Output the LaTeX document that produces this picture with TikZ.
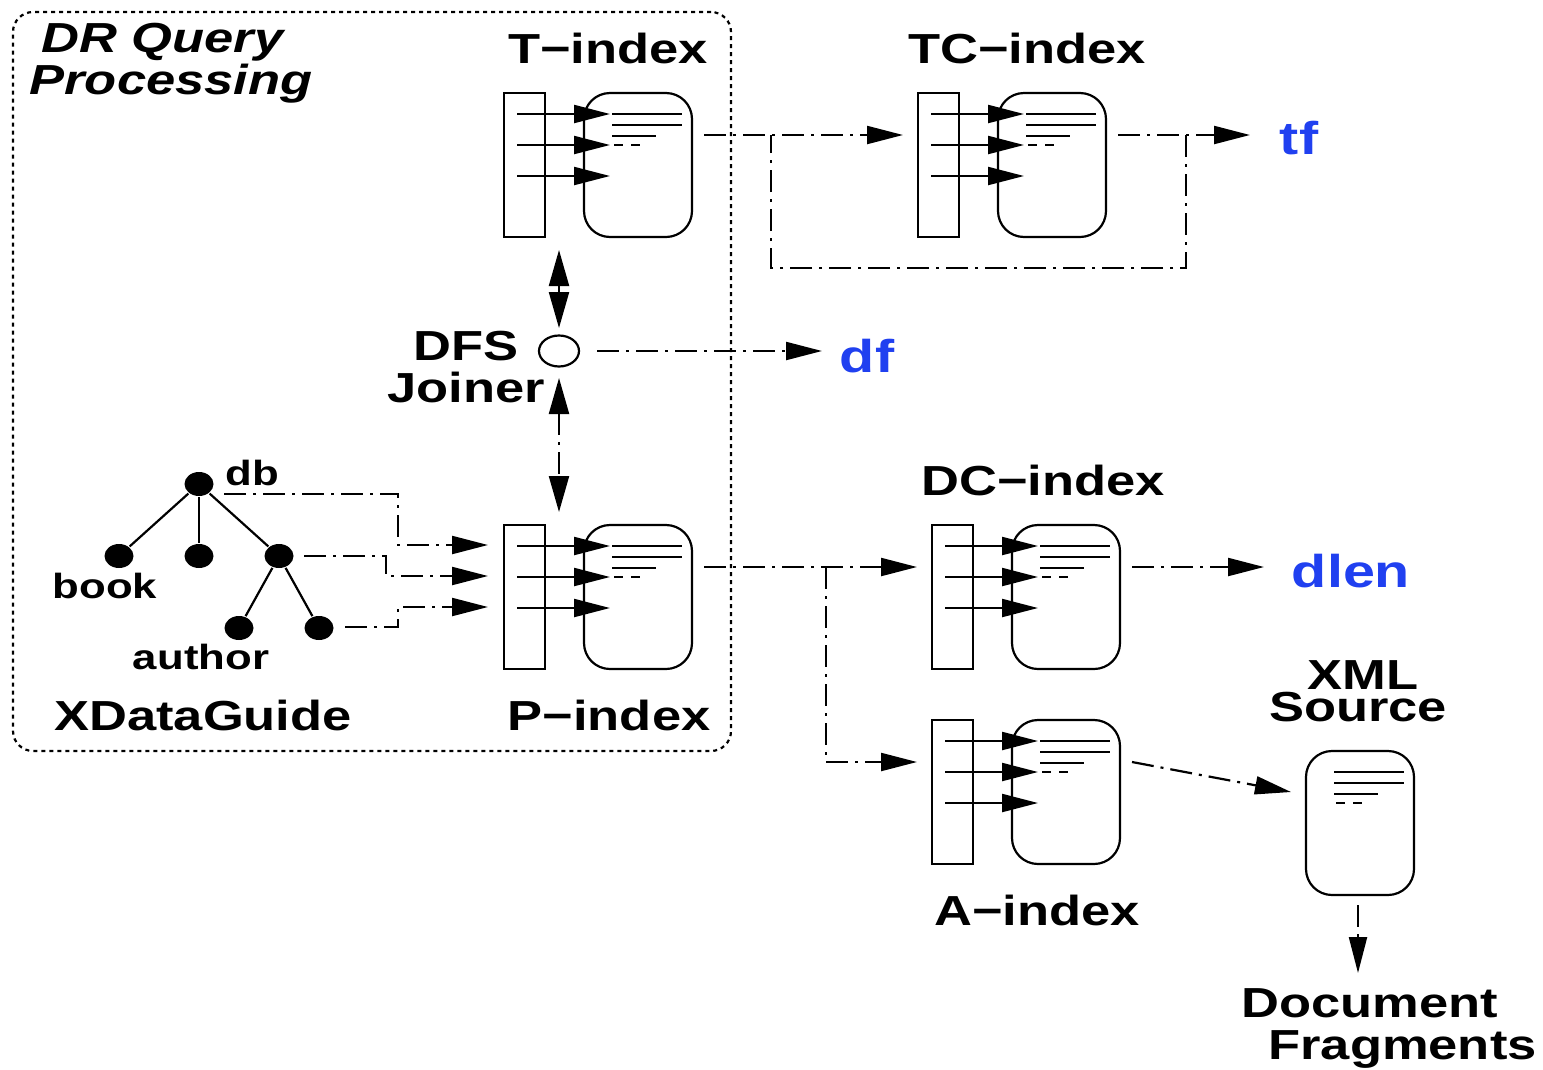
\documentclass[tikz,border=0pt]{standalone}
\usepackage{fontspec}
\setmainfont[FakeStretch=1.25]{Liberation Sans}
\usetikzlibrary{arrows.meta, shapes.geometric}

\definecolor{termblue}{RGB}{32,64,240}

\tikzset{
    bigtext/.style={inner sep=0pt, align=center, font=\fontsize{42}{42}\selectfont\bfseries},
    smalltext/.style={inner sep=0pt, font=\fontsize{35}{35}\selectfont\bfseries},
    resulttext/.style={inner sep=0pt, text=termblue, font=\fontsize{46}{46}\selectfont\bfseries},
    listbox/.style={draw, anchor=north west, inner sep=0pt, outer sep=0pt, minimum width=41pt, minimum height=144pt},
    docbox/.style={draw, anchor=north west, inner sep=0pt, outer sep=0pt, minimum width=108pt, minimum height=144pt, rounded corners=26pt},
    treenode/.style={ellipse, fill=black, inner sep=0pt, minimum width=29pt, minimum height=24pt},
    entry/.style={-{Triangle[length=36pt,width=18pt]}},
    flow/.style={dash pattern=on 22pt off 7pt on 3pt off 7pt},
    flowarrow/.style={flow, -{Triangle[length=36pt,width=18pt]}},
    bothways/.style={flow, {Triangle[length=36pt,width=20pt]}-{Triangle[length=36pt,width=20pt]}}
}

% document box with its text lines
\newcommand{\docunit}[3]{
    \begin{scope}[shift={(#2,#3)}]
        \node[docbox] (#1doc) at (584,93) {};
        \draw[line width=1.6pt] (612,114) -- (682,114);
        \draw[line width=1.6pt] (612,125) -- (682,125);
        \draw[line width=1.6pt] (612,136) -- (656,136);
        \draw[line width=1.6pt, dash pattern=on 9pt off 8pt] (614,145) -- (642,145);
    \end{scope}
}

% list box, document box, entries, and the points where flows meet them
\newcommand{\indexunit}[3]{
    \begin{scope}[shift={(#2,#3)}]
        \node[listbox] (#1list) at (504,93) {};
        \docunit{#1}{0}{0}
        \foreach \ypos in {114,145,176} {
            \draw[entry] (517,\ypos) -- (610,\ypos);
        }
        \coordinate (#1in) at (489,135);
        \coordinate (#1out) at (704,135);
    \end{scope}
}

\begin{document}
\begin{tikzpicture}[x=1pt, y=-1pt, line width=2.2pt]
    \useasboundingbox (0,0) rectangle (1543,1069);

    % query processing frame
    \node[draw, dash pattern=on 4pt off 4pt, rounded corners=20pt, anchor=north west, inner sep=0pt, outer sep=0pt,
          minimum width=718pt, minimum height=739pt] (frame) at (13,12) {};
    \node[bigtext, align=left, font=\fontsize{42}{42}\selectfont\bfseries\itshape] (drquery) at (171,63) {\hspace{12pt}DR Query\\Processing};

    % index units
    \indexunit{t}{0}{0}
    \indexunit{tc}{414}{0}
    \indexunit{p}{0}{432}
    \indexunit{dc}{428}{432}
    \indexunit{a}{428}{627}
    \docunit{xml}{722}{658}

    \node[bigtext] (tlabel) at (608,48) {T−index};
    \node[bigtext] (tclabel) at (1027,48) {TC−index};
    \node[bigtext] (plabel) at (609,715) {P−index};
    \node[bigtext] (dclabel) at (1043,480) {DC−index};
    \node[bigtext] (alabel) at (1037,910) {A−index};
    \node[bigtext, font=\fontsize{42}{32}\selectfont\bfseries] (xmllabel) at (1358,691) {\hspace{10pt}XML\\Source};
    \node[bigtext, align=left] (fraglabel) at (1389,1028) {Document\\\hspace{27pt}Fragments};

    % results
    \node[resulttext] (tf) at (1299,138) {tf};
    \node[resulttext] (df) at (867,356) {df};
    \node[resulttext] (dlen) at (1351,571) {dlen};

    % joiner
    \node[draw, ellipse, inner sep=0pt, minimum width=40pt, minimum height=31pt] (joiner) at (559,351) {};
    \node[bigtext] (joinerlabel) at (466,367) {DFS\\Joiner};

    % xdataguide tree
    \node[treenode] (db) at (199,484) {};
    \node[treenode] (book) at (119,556) {};
    \node[treenode] (mid) at (199,556) {};
    \node[treenode] (sub) at (279,556) {};
    \node[treenode] (authora) at (239,628) {};
    \node[treenode] (authorb) at (319,628) {};
    \draw (db) -- (book);
    \draw (db) -- (mid);
    \draw (db) -- (sub);
    \draw (sub) -- (authora);
    \draw (sub) -- (authorb);
    \node[smalltext] (dblabel) at (252,473) {db};
    \node[smalltext] (booklabel) at (105,586) {book};
    \node[smalltext] (authorlabel) at (201,657) {author};
    \node[bigtext] (guidelabel) at (203,715) {XDataGuide};

    % flow end points
    \coordinate (dbout) at (224,494);
    \coordinate (subout) at (304,556);
    \coordinate (authorout) at (345,627);
    \coordinate (pina) at (488,545);
    \coordinate (pinb) at (488,576);
    \coordinate (pinc) at (488,607);
    \coordinate (tfin) at (1250,135);
    \coordinate (tcback) at (1186,135);
    \coordinate (tcmerge) at (771,135);
    \coordinate (dfin) at (822,351);
    \coordinate (joinout) at (597,351);
    \coordinate (joinup) at (559,328);
    \coordinate (tbelow) at (559,250);
    \coordinate (joindown) at (559,378);
    \coordinate (pabove) at (559,512);
    \coordinate (dlenin) at (1264,567);
    \coordinate (split) at (826,567);
    \coordinate (xmlin) at (1291,792);
    \coordinate (xmlout) at (1358,905);
    \coordinate (fragin) at (1358,973);

    % flows
    \draw[flowarrow] (dbout) -| (398,520) |- (pina);
    \draw[flowarrow] (subout) -| (386,566) |- (pinb);
    \draw[flowarrow] (authorout) -| (398,617) |- (pinc);
    \draw[flowarrow] (tout) -- (tcin);
    \draw[flowarrow] (tcout) -- (tfin);
    \draw[flow] (tcback) -- (1186,268) -- (771,268) -- (tcmerge);
    \draw[bothways] (tbelow) -- (joinup);
    \draw[bothways] (joindown) -- (pabove);
    \draw[flowarrow] (joinout) -- (dfin);
    \draw[flowarrow] (pout) -- (dcin);
    \draw[flowarrow] (split) |- (ain);
    \draw[flowarrow] (dcout) -- (dlenin);
    \draw[flowarrow] (aout) -- (xmlin);
    \draw[flowarrow] (xmlout) -- (fragin);
\end{tikzpicture}
\end{document}
